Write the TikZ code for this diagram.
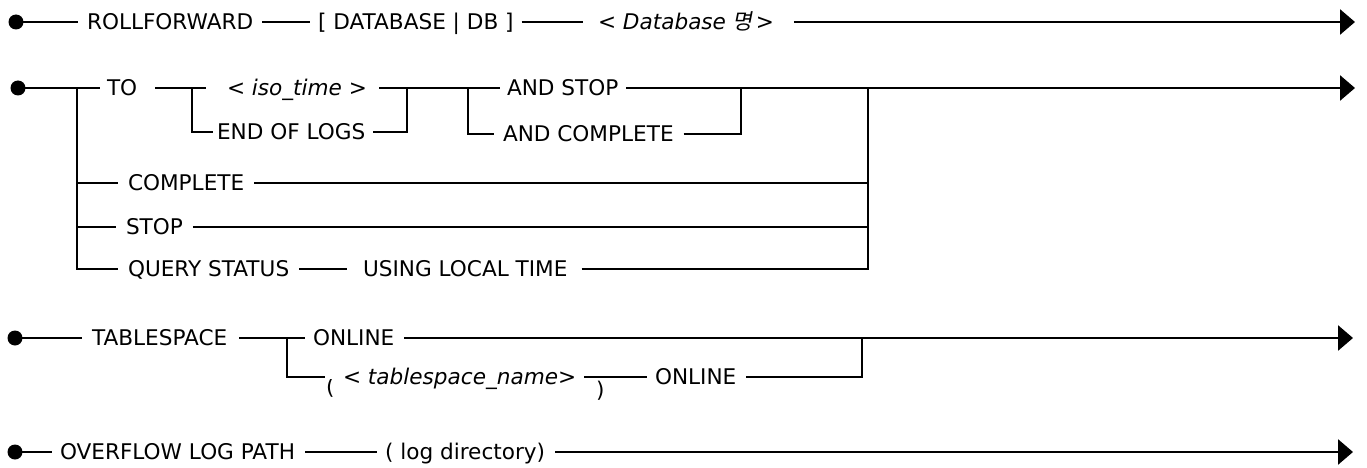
\documentclass[tikz,border=0pt]{standalone}
\usepackage{fontspec}
\setmainfont{DejaVu Sans}
\newfontfamily\krfont[FakeSlant=0.2]{Noto Sans CJK KR}
\usetikzlibrary{arrows.meta}
\begin{document}
\begin{tikzpicture}[x=1pt,y=-1pt,
  line width=2.6pt,
  lbl/.style={inner sep=0pt, outer sep=0pt, anchor=west, text height=15.6pt, text depth=0pt, font=\fontsize{21.6}{24}\selectfont},
  itl/.style={lbl, font=\fontsize{21.6}{24}\selectfont\itshape},
  par/.style={inner sep=0pt, outer sep=0pt, anchor=base west, font=\fontsize{21.6}{24}\selectfont},
  dot/.style={circle, fill=black, inner sep=0pt, minimum size=15pt},
  arr/.style={-{Triangle[length=15pt,width=25pt]}},
]
\useasboundingbox (0,0) rectangle (1367,468);

% Row 1
\node[dot] (d1) at (16,22) {};
\node[lbl] (rf) at (87,22) {ROLLFORWARD};
\node[lbl] (db) at (318,22) {[ DATABASE | DB ]};
\node[itl] (dbn) at (598,22) {< Database {\krfont 명}\kern3pt>};
\coordinate (e1) at (1355,22);
\draw (d1.center) -- ([xshift=-9pt]rf.west);
\draw ([xshift=9pt]rf.east) -- ([xshift=-8pt]db.west);
\draw ([xshift=8pt]db.east) -- ([xshift=-15pt]dbn.west);
\draw[arr] ([xshift=20pt]dbn.east) -- (e1);

% Row 2
\node[dot] (d2) at (18,88) {};
\coordinate (j1) at (77,88);
\node[lbl] (to) at (107,88) {TO};
\coordinate (j2) at (192,88);
\node[itl] (iso) at (227,88) {< iso\_time >};
\node[lbl] (eol) at (217,132) {END OF LOGS};
\coordinate (j3) at (407,88);
\coordinate (j4) at (468,88);
\node[lbl] (as) at (507,88) {AND STOP};
\node[lbl] (ac) at (503,134) {AND COMPLETE};
\coordinate (j5) at (741,88);
\coordinate (j6) at (868,88);
\coordinate (e2) at (1355,88);
\node[lbl] (cp) at (128,183) {COMPLETE};
\node[lbl] (st) at (126,227) {STOP};
\node[lbl] (qs) at (128,269) {QUERY STATUS};
\node[lbl] (ul) at (363,269) {USING LOCAL TIME};

\draw (d2.center) -- ([xshift=-7pt]to.west);
\draw ([xshift=18pt]to.east) -- ([xshift=-21pt]iso.west);
\draw (j2) |- ([xshift=-4pt]eol.west);
\draw ([xshift=12pt]iso.east) -- ([xshift=-7pt]as.west);
\draw ([xshift=8pt]eol.east) -| (j3);
\draw (j4) |- ([xshift=-9pt]ac.west);
\draw[arr] ([xshift=8pt]as.east) -- (e2);
\draw ([xshift=10pt]ac.east) -| (j5);
\draw (j1 |- cp.west) -- ([xshift=-10pt]cp.west);
\draw ([xshift=10pt]cp.east) -- (j6 |- cp.west);
\draw (j1 |- st.west) -- ([xshift=-10pt]st.west);
\draw ([xshift=10pt]st.east) -- (j6 |- st.west);
\draw (j1) |- ([xshift=-10pt]qs.west);
\draw ([xshift=10pt]qs.east) -- ([xshift=-16pt]ul.west);
\draw ([xshift=14pt]ul.east) -| (j6);

% Row 4
\node[dot] (d4) at (15,338) {};
\node[lbl] (ts) at (92,338) {TABLESPACE};
\coordinate (k1) at (287,338);
\node[lbl] (on1) at (313,338) {ONLINE};
\node[itl] (tsn) at (343,377) {< tablespace\_name>};
\node[lbl] (on2) at (655,377) {ONLINE};
\coordinate (k2) at (862,338);
\coordinate (e4) at (1353,338);
\draw (d4.center) -- ([xshift=-10pt]ts.west);
\draw ([xshift=12pt]ts.east) -- ([xshift=-8pt]on1.west);
\draw (k1) |- ([xshift=-18pt]tsn.west);
\draw[arr] ([xshift=10pt]on1.east) -- (e4);
\draw ([xshift=8pt]tsn.east) -- ([xshift=-8pt]on2.west);
\draw ([xshift=10pt]on2.east) -| (k2);
\begin{scope}
\clip (320,379) rectangle (612,410);
\node[par] (lp) at (326,394) {(};
\node[par] (rp) at (596,397) {)};
\end{scope}

% Row 5
\node[dot] (d5) at (15,452) {};
\node[lbl] (ov) at (60,452) {OVERFLOW LOG PATH};
\node[lbl] (ld) at (385,452) {( log directory)};
\coordinate (e5) at (1353,452);
\draw (d5.center) -- ([xshift=-8pt]ov.west);
\draw ([xshift=10pt]ov.east) -- ([xshift=-8pt]ld.west);
\draw[arr] ([xshift=10pt]ld.east) -- (e5);
\end{tikzpicture}
\end{document}
